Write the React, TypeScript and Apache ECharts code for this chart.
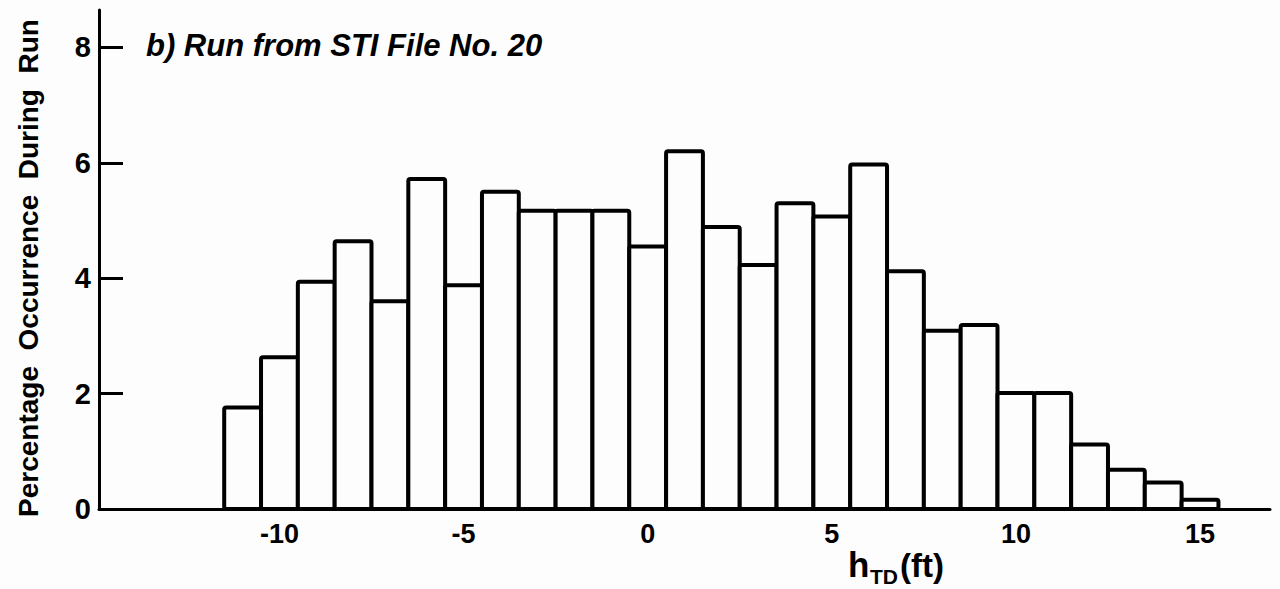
import React, { useEffect, useRef } from "react";
import * as echarts from "echarts";

const binCenters = [-11, -10, -9, -8, -7, -6, -5, -4, -3, -2, -1, 0, 1, 2, 3, 4, 5, 6, 7, 8, 9, 10, 11, 12, 13, 14, 15];
const percentages = [1.76, 2.63, 3.94, 4.64, 3.6, 5.72, 3.88, 5.5, 5.17, 5.17, 5.17, 4.55, 6.2, 4.89, 4.23, 5.3, 5.07, 5.97, 4.12, 3.09, 3.19, 2.01, 2.01, 1.12, 0.68, 0.46, 0.16];
const xTickLabels = [-10, -5, 0, 5, 10, 15];
const yTickLabels = [0, 2, 4, 6, 8];
const yTickMarks = [2, 4, 6, 8];
const titleText = "b) Run from STI File No. 20";
const yAxisTitle = "Percentage  Occurrence  During  Run";
const xNameMain = "h";
const xNameSub = "TD";
const xNameUnit = "(ft)";

const FONT = "'Liberation Sans', Arial, sans-serif";

export default function App() {
  const ref = useRef<HTMLDivElement>(null);
  useEffect(() => {
    if (!ref.current) return;
    const chart = echarts.init(ref.current, null, { renderer: "svg" });
    const data = binCenters.map((c, i) => [c, percentages[i]]);
    chart.setOption({
      animation: false,
      backgroundColor: "#fdfdfd",
      grid: { left: 99, right: 10, top: 10, bottom: 80, containLabel: false },
      xAxis: {
        type: "value",
        min: -14.9,
        max: 16.9,
        splitLine: { show: false },
        axisLine: { show: true, onZero: false, lineStyle: { color: "#000", width: 3 } },
        axisTick: { show: false },
        axisLabel: {
          customValues: xTickLabels,
          formatter: (v: number) => String(v),
          color: "#000",
          fontFamily: FONT,
          fontWeight: "bold",
          fontSize: 27,
          margin: 11,
        },
      },
      yAxis: {
        type: "value",
        min: 0,
        max: 8.65,
        splitLine: { show: false },
        axisLine: { show: true, onZero: false, lineStyle: { color: "#000", width: 3 } },
        axisTick: {
          show: true,
          inside: true,
          length: 24,
          customValues: yTickMarks,
          lineStyle: { color: "#000", width: 3 },
        },
        axisLabel: {
          customValues: yTickLabels,
          formatter: (v: number) => String(v),
          color: "#000",
          fontFamily: FONT,
          fontWeight: "bold",
          fontSize: 29,
          margin: 8,
        },
      },
      series: [
        {
          type: "custom",
          data,
          renderItem: (params: any, api: any) => {
            const x = api.value(0);
            const y = api.value(1);
            const p0 = api.coord([x - 0.5, y]);
            const p1 = api.coord([x + 0.5, 0]);
            return {
              type: "rect",
              shape: { x: p0[0], y: p0[1], width: p1[0] - p0[0], height: p1[1] - p0[1], r: 2 },
              style: { fill: "#fdfdfd", stroke: "#000", lineWidth: 4 },
            };
          },
        },
      ],
      graphic: [
        {
          type: "text",
          left: 146,
          top: 30,
          style: {
            text: titleText,
            fill: "#000",
            font: `italic bold 31px ${FONT}`,
          },
        },
        {
          type: "text",
          x: 28,
          y: 268,
          rotation: Math.PI / 2,
          style: {
            text: yAxisTitle,
            fill: "#000",
            font: `bold 28px ${FONT}`,
            align: "center",
            verticalAlign: "middle",
          },
        },
        {
          type: "text",
          x: 848,
          y: 582,
          style: { text: xNameMain, fill: "#000", font: `bold 35px ${FONT}`, align: "left", verticalAlign: "bottom" },
        },
        {
          type: "text",
          x: 870,
          y: 587,
          style: { text: xNameSub, fill: "#000", font: `bold 21px ${FONT}`, align: "left", verticalAlign: "bottom" },
        },
        {
          type: "text",
          x: 900,
          y: 582,
          style: { text: xNameUnit, fill: "#000", font: `bold 33px ${FONT}`, align: "left", verticalAlign: "bottom" },
        },
      ],
    });
    return () => chart.dispose();
  }, []);
  return <div ref={ref} style={{ position: "fixed", left: 0, top: 0, width: 1280, height: 589 }} />;
}
